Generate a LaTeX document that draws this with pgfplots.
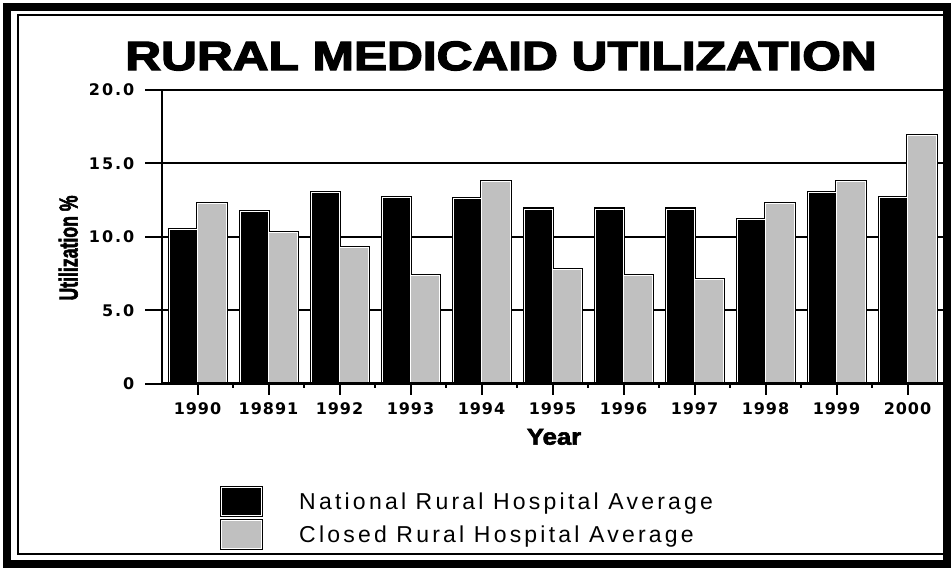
\documentclass[border=0pt]{standalone}
\usepackage{fontspec}
\usepackage{graphicx}
\usepackage{pgfplots}
\usepackage{pgfplotstable}
\pgfplotsset{compat=1.18}
\setmainfont{Liberation Sans}
\newfontfamily\tickfont{DejaVu Sans}[LetterSpace=6]
\newfontfamily\ytickfont{DejaVu Sans}[LetterSpace=12]
\newfontface\titlefont{Liberation Sans Bold}[FakeBold=3]
\newfontface\heavyfont{Liberation Sans Bold}[FakeBold=2.5]
\newfontfamily\legfont{Liberation Sans}[LetterSpace=14]
\definecolor{bargray}{RGB}{192,192,192}

% medicaid utilization, %
\pgfplotstableread{
x nat closed
0 10.5 12.3
1 11.7 10.3
2 13.0 9.3
3 12.7 7.4
4 12.6 13.8
5 11.9 7.8
6 11.9 7.4
7 11.9 7.1
8 11.2 12.3
9 13.0 13.8
10 12.7 16.9
}\utiltable

\begin{document}
\begin{tikzpicture}
\useasboundingbox (0pt,0pt) rectangle (951pt,571pt);
% frame
\draw[line width=8pt] (7pt,7pt) rectangle (947pt,564pt);
\draw[line width=2pt] (951pt,17pt) -- (18pt,17pt) -- (18pt,556pt) -- (951pt,556pt);
\node[font=\titlefont\fontsize{41}{50}\selectfont, inner sep=0pt] at (501pt,515pt) {\scalebox{1.21}[1]{RURAL MEDICAID UTILIZATION}};

\begin{axis}[
  at={(162pt,187.3pt)}, anchor=south west,
  scale only axis, width=781pt, height=293.7pt,
  xmin=-0.5, xmax=10.5, ymin=0, ymax=20,
  axis lines*=left,
  axis line style={line width=2.5pt},
  ytick={0,5,10,15,20}, yticklabels={0,5.0,10.0,15.0,20.0},
  xtick={0,...,10},
  xticklabels={1990,19891,1992,1993,1994,1995,1996,1997,1998,1999,2000},
  minor xtick={0.5,1.5,...,9.5},
  tick align=outside,
  ytick style={black, line width=2pt, /pgfplots/major tick length=17pt},
  xtick style={black, line width=2pt, /pgfplots/major tick length=11pt},
  minor tick length=4pt,
  ymajorgrids, major grid style={black, line width=2pt},
  ticklabel style={font=\tickfont\bfseries\fontsize{16}{18}\selectfont},
  yticklabel style={font=\ytickfont\bfseries\fontsize{16}{18}\selectfont, xshift=-20pt},
  xticklabel style={yshift=-11pt},
  /pgf/number format/assume math mode=true,
  xlabel={\scalebox{1.12}[1]{Year}}, ylabel={\scalebox{0.68}[1]{Utilization \%}},
  xlabel style={font=\heavyfont\fontsize{23}{24}\selectfont, at={(axis description cs:0.502,-0.181)}, anchor=center},
  ylabel style={font=\heavyfont\fontsize{26}{30}\selectfont, at={(axis description cs:-0.12,0.462)}, anchor=center},
  legend style={draw=none, fill=none, at={(axis description cs:0.0743,-0.348)}, anchor=north west,
    inner sep=0pt, row sep=2pt, column sep=36pt, font=\legfont\fontsize{23}{26}\selectfont,
    nodes={inner sep=0pt}},
  legend cell align=left,
  legend image code/.code={
    \draw[black, line width=3pt] (0pt,-14pt) rectangle (40pt,14pt);
    \draw[#1, draw=white, line width=0.8pt] (0pt,-14pt) rectangle (40pt,14pt);},
]
\addplot[ybar, bar width=28.5pt, bar shift=-14.25pt, draw=black, line width=3pt, fill=black, forget plot] table[x=x,y=nat]{\utiltable};
\addplot[ybar, bar width=28.5pt, bar shift=14.25pt, draw=black, line width=3pt, fill=bargray, forget plot] table[x=x,y=closed]{\utiltable};
\addplot[ybar, bar width=28.5pt, bar shift=-14.25pt, draw=white, line width=0.8pt, fill=black] table[x=x,y=nat]{\utiltable};
\addplot[ybar, bar width=28.5pt, bar shift=14.25pt, draw=white, line width=0.8pt, fill=bargray] table[x=x,y=closed]{\utiltable};
\legend{National Rural Hospital Average, Closed Rural Hospital Average}
\draw[line width=2.5pt] (axis cs:-0.5,0) -- (axis cs:10.5,0);
\end{axis}
\end{tikzpicture}
\end{document}
